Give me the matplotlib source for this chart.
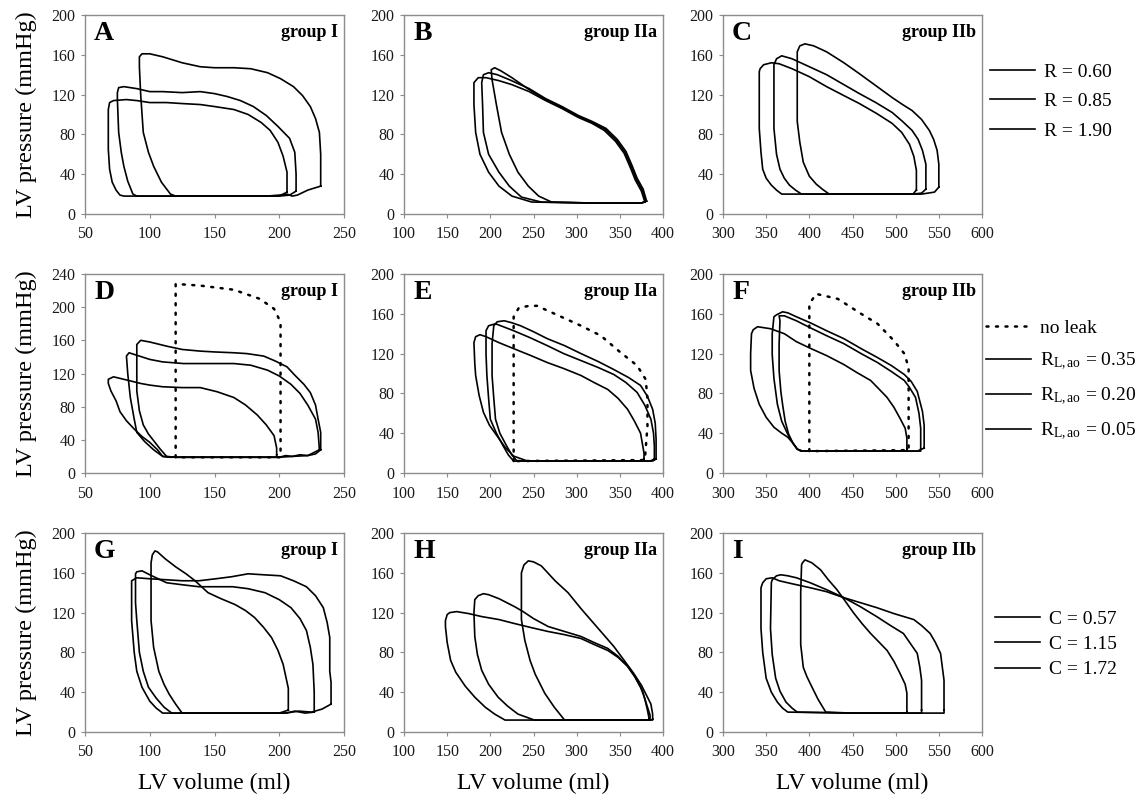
import matplotlib.pyplot as plt
from matplotlib.lines import Line2D

plt.rcParams['font.family'] = ['Liberation Serif', 'DejaVu Serif']
plt.rcParams['mathtext.fontset'] = 'custom'
plt.rcParams['mathtext.rm'] = 'Liberation Serif'
plt.rcParams['mathtext.it'] = 'Liberation Serif:italic'

# --- pressure-volume loops (volume ml, pressure mmHg) ---
# row 1: peripheral resistance R
loop_A1 = [(232, 28), (232, 60), (231, 82), (228, 96), (224, 108), (218, 119), (211, 128), (201, 136),
           (191, 142), (178, 146), (165, 147), (150, 147), (139, 148), (125, 152), (110, 158), (100, 161),
           (94, 161), (92, 158), (92, 148), (93, 120), (95, 82), (99, 62), (103, 48), (109, 32), (116, 20),
           (120, 18), (150, 18), (190, 18), (200, 19), (206, 20), (210, 18), (214, 19), (222, 24), (232, 28)]
loop_A2 = [(213, 23), (213, 40), (212, 62), (208, 76), (199, 88), (190, 99), (180, 108), (170, 114),
           (160, 118), (150, 121), (139, 123), (125, 122), (110, 123), (100, 123), (90, 126), (80, 128),
           (76, 127), (75, 122), (75, 115), (76, 82), (78, 62), (80, 48), (83, 33), (87, 20), (90, 18),
           (150, 18), (200, 18), (208, 19), (213, 23)]
loop_A3 = [(206, 22), (206, 42), (203, 58), (199, 72), (193, 84), (186, 92), (176, 100), (165, 105),
           (150, 108), (139, 110), (125, 111), (113, 112), (100, 112), (90, 114), (82, 115), (72, 114),
           (69, 112), (68, 105), (68, 65), (69, 45), (71, 32), (74, 24), (77, 19), (80, 18), (150, 18),
           (200, 18), (206, 22)]

loop_B1 = [(380, 13), (376, 24), (369, 35), (363, 48), (356, 62), (346, 74), (333, 85), (318, 92),
           (302, 98), (283, 107), (264, 115), (245, 125), (225, 137), (212, 144), (205, 147), (201, 145),
           (202, 135), (207, 110), (213, 82), (222, 60), (232, 42), (244, 28), (256, 18), (271, 12),
           (320, 11), (375, 11), (380, 13)]
loop_B2 = [(381, 13), (377, 25), (370, 36), (364, 49), (357, 63), (347, 75), (334, 86), (318, 93),
           (302, 99), (283, 108), (264, 116), (245, 126), (222, 135), (208, 140), (198, 142), (192, 140),
           (190, 132), (191, 110), (192, 82), (198, 60), (210, 42), (222, 28), (236, 17), (259, 12),
           (320, 11), (375, 11), (381, 13)]
loop_B3 = [(379, 12), (375, 23), (368, 34), (362, 47), (355, 61), (345, 73), (332, 84), (318, 91),
           (302, 97), (283, 106), (264, 114), (245, 123), (225, 130), (210, 134), (195, 137), (186, 137),
           (181, 132), (181, 110), (183, 82), (188, 60), (198, 42), (210, 28), (225, 18), (248, 12),
           (320, 11), (375, 11), (379, 12)]

loop_C1 = [(550, 27), (550, 50), (548, 64), (544, 75), (539, 84), (530, 95), (519, 104), (508, 110),
           (496, 117), (477, 129), (458, 141), (440, 152), (420, 163), (405, 169), (395, 171), (389, 169),
           (386, 163), (386, 120), (386, 93), (389, 72), (393, 52), (400, 38), (408, 30), (415, 25),
           (423, 20), (450, 20), (500, 20), (530, 20), (545, 22), (550, 27)]
loop_C2 = [(535, 25), (535, 50), (531, 64), (526, 75), (519, 84), (508, 93), (496, 102), (477, 112),
           (458, 121), (440, 130), (420, 140), (400, 148), (380, 156), (368, 159), (362, 156), (359, 150),
           (359, 100), (359, 86), (362, 60), (366, 45), (371, 36), (377, 29), (384, 24), (391, 20),
           (450, 20), (520, 20), (530, 21), (535, 25)]
loop_C3 = [(524, 24), (524, 44), (521, 58), (516, 70), (507, 82), (496, 91), (478, 101), (458, 111),
           (440, 119), (420, 128), (400, 138), (380, 146), (365, 151), (356, 152), (347, 150), (343, 146),
           (342, 143), (342, 110), (342, 86), (344, 62), (346, 45), (350, 36), (356, 29), (362, 24),
           (368, 20), (450, 20), (520, 20), (524, 24)]

# row 2: aortic leak resistance R_L,ao (dotted = no leak)
noleak_D = [(120, 19), (120, 228), (139, 226), (165, 221), (185, 210), (196, 198), (201, 182), (201, 19), (120, 19)]
loop_D1 = [(232, 28), (232, 49), (230, 65), (228, 82), (224, 97), (219, 107), (212, 118), (206, 128),
           (197, 135), (188, 141), (175, 144), (165, 145), (150, 146), (139, 147), (125, 149), (113, 153),
           (100, 158), (93, 160), (90, 155), (90, 130), (90, 99), (92, 75), (95, 58), (99, 47), (103, 39),
           (108, 29), (113, 20), (120, 19), (200, 19), (205, 21), (210, 20), (216, 22), (222, 21),
           (228, 23), (232, 28)]
loop_D2 = [(231, 28), (230, 49), (228, 65), (222, 82), (216, 96), (209, 107), (200, 117), (191, 124),
           (178, 130), (165, 132), (150, 132), (126, 132), (110, 134), (100, 137), (90, 142), (84, 145),
           (82, 141), (83, 120), (85, 91), (88, 65), (90, 49), (96, 38), (103, 28), (110, 20), (120, 19),
           (200, 19), (210, 20), (222, 21), (231, 28)]
loop_D3 = [(198, 22), (198, 30), (196, 45), (190, 58), (183, 70), (174, 82), (165, 91), (152, 98),
           (139, 103), (125, 103), (110, 104), (100, 106), (93, 108), (80, 113), (72, 116), (68, 113),
           (68, 108), (70, 99), (74, 87), (77, 74), (82, 63), (88, 53), (94, 44), (100, 37), (106, 28),
           (110, 20), (115, 19), (198, 19), (198, 22)]

noleak_E = [(227, 12), (227, 157), (233, 166), (245, 168), (254, 168), (277, 159), (305, 148), (328, 138),
            (351, 121), (370, 108), (380, 94), (382, 74), (382, 47), (380, 25), (379, 13), (227, 12)]
loop_E1 = [(378, 14), (378, 20), (374, 40), (367, 52), (359, 64), (348, 75), (336, 84), (320, 91),
           (305, 98), (285, 105), (266, 111), (247, 118), (227, 125), (210, 131), (195, 137), (188, 139),
           (183, 137), (181, 131), (182, 110), (183, 98), (187, 78), (192, 61), (199, 48), (208, 37),
           (217, 26), (227, 17), (243, 12), (300, 12), (375, 12), (378, 14)]
loop_E2 = [(390, 14), (390, 27), (389, 40), (386, 54), (379, 68), (370, 81), (357, 91), (343, 99),
           (325, 106), (305, 113), (285, 120), (266, 128), (246, 136), (227, 143), (215, 147), (206, 150),
           (198, 148), (195, 143), (195, 120), (196, 98), (198, 75), (200, 54), (207, 40), (215, 27),
           (221, 18), (227, 12), (300, 12), (385, 12), (390, 14)]
loop_E3 = [(392, 14), (392, 34), (391, 50), (388, 64), (382, 77), (374, 88), (360, 96), (343, 104),
           (325, 112), (305, 120), (286, 128), (266, 135), (250, 142), (235, 148), (225, 151), (216, 153),
           (208, 152), (204, 148), (202, 130), (202, 98), (204, 75), (206, 54), (211, 40), (219, 27),
           (225, 18), (231, 12), (300, 12), (388, 12), (392, 14)]

noleak_F = [(400, 22), (400, 170), (408, 180), (433, 175), (460, 160), (479, 150), (498, 133), (510, 120),
            (515, 106), (515, 49), (515, 23), (400, 22)]
loop_F1 = [(533, 25), (533, 34), (533, 48), (531, 62), (525, 82), (518, 92), (510, 99), (495, 108),
           (479, 116), (460, 125), (440, 135), (420, 143), (401, 151), (385, 157), (375, 161), (369, 162),
           (362, 159), (359, 157), (357, 140), (357, 119), (359, 95), (363, 69), (368, 52), (375, 39),
           (381, 30), (386, 24), (392, 22), (500, 22), (525, 22), (533, 25)]
loop_F2 = [(529, 24), (529, 34), (529, 45), (527, 60), (523, 76), (516, 86), (510, 93), (495, 102),
           (479, 111), (460, 120), (440, 130), (420, 138), (401, 146), (385, 153), (371, 158), (365, 158),
           (366, 153), (365, 130), (365, 103), (367, 82), (369, 69), (372, 52), (376, 39), (381, 30),
           (386, 24), (392, 22), (500, 22), (529, 22), (529, 24)]
loop_F3 = [(513, 24), (513, 35), (511, 45), (505, 55), (498, 66), (490, 76), (480, 85), (471, 93),
           (455, 101), (440, 109), (420, 118), (402, 125), (385, 132), (371, 140), (355, 145), (340, 147),
           (335, 144), (333, 140), (332, 120), (332, 103), (336, 85), (342, 69), (350, 56), (359, 46),
           (368, 40), (375, 36), (381, 30), (386, 24), (390, 22), (450, 22), (513, 22), (513, 24)]

# row 3: arterial compliance C
loop_G1 = [(207, 22), (207, 44), (203, 68), (199, 82), (194, 95), (188, 105), (181, 115), (174, 122),
           (166, 128), (155, 134), (145, 140), (140, 146), (135, 152), (128, 159), (120, 166), (112, 174),
           (106, 181), (104, 182), (102, 178), (101, 170), (101, 112), (103, 85), (107, 61), (111, 48),
           (115, 38), (120, 28), (125, 19), (200, 19), (207, 22)]
loop_G2 = [(227, 20), (227, 40), (226, 68), (224, 85), (221, 102), (216, 114), (209, 125), (200, 133),
           (189, 140), (176, 144), (164, 146), (150, 146), (138, 146), (125, 148), (113, 150), (100, 158),
           (94, 162), (90, 161), (89, 159), (89, 130), (90, 112), (92, 80), (95, 61), (99, 45), (105, 34),
           (111, 25), (117, 19), (205, 19), (212, 21), (220, 19), (227, 20)]
loop_G3 = [(240, 28), (240, 50), (239, 61), (239, 95), (237, 110), (234, 125), (228, 137), (221, 146),
           (211, 152), (201, 157), (188, 158), (176, 159), (163, 156), (151, 154), (138, 152), (125, 152),
           (113, 153), (100, 154), (90, 155), (86, 152), (86, 150), (86, 112), (88, 80), (90, 61), (94, 45),
           (100, 31), (105, 24), (110, 19), (205, 19), (215, 21), (225, 20), (233, 23), (240, 28)]

loop_H1 = [(388, 13), (388, 18), (386, 28), (382, 35), (375, 47), (366, 59), (355, 72), (343, 86),
           (332, 97), (320, 109), (305, 124), (290, 140), (275, 152), (259, 167), (250, 171), (244, 172),
           (239, 168), (236, 160), (236, 140), (236, 113), (240, 92), (246, 72), (252, 58), (263, 39),
           (274, 25), (286, 12), (388, 12), (388, 13)]
loop_H2 = [(384, 13), (382, 22), (379, 33), (376, 42), (368, 55), (359, 66), (348, 76), (336, 84),
           (320, 90), (305, 96), (286, 101), (267, 106), (250, 114), (238, 121), (228, 126), (210, 134),
           (198, 138), (192, 139), (186, 137), (182, 133), (181, 120), (182, 96), (185, 78), (190, 62),
           (198, 48), (209, 35), (220, 26), (232, 18), (251, 12), (384, 12), (384, 13)]
loop_H3 = [(385, 12), (385, 17), (382, 25), (378, 36), (374, 45), (367, 56), (359, 66), (348, 75),
           (336, 82), (320, 88), (305, 94), (285, 98), (267, 101), (247, 105), (228, 109), (210, 113),
           (190, 116), (175, 119), (161, 121), (153, 120), (150, 118), (148, 112), (148, 106), (150, 90),
           (154, 72), (160, 60), (171, 46), (182, 35), (194, 25), (205, 18), (217, 12), (300, 12), (385, 12)]

loop_I1 = [(513, 20), (513, 39), (511, 48), (505, 59), (498, 71), (490, 82), (480, 91), (471, 99),
           (461, 109), (451, 120), (442, 131), (432, 143), (422, 153), (413, 163), (403, 170), (395, 173),
           (392, 170), (391, 168), (390, 140), (390, 88), (393, 65), (397, 56), (402, 47), (410, 33),
           (419, 20), (450, 19), (513, 19), (513, 20)]
loop_I2 = [(530, 22), (530, 52), (528, 65), (525, 79), (517, 89), (509, 99), (494, 107), (478, 116),
           (459, 126), (440, 135), (420, 143), (401, 150), (385, 155), (375, 157), (367, 158), (362, 157),
           (357, 153), (356, 150), (355, 104), (357, 78), (361, 54), (366, 41), (373, 30), (380, 24),
           (386, 20), (450, 19), (530, 19), (530, 22)]
loop_I3 = [(556, 22), (556, 52), (552, 79), (546, 90), (540, 99), (530, 107), (521, 113), (498, 119),
           (478, 125), (459, 130), (440, 135), (420, 141), (401, 145), (380, 149), (365, 152), (357, 155),
           (350, 154), (346, 150), (344, 145), (344, 104), (346, 80), (350, 54), (356, 40), (363, 30),
           (369, 24), (375, 20), (450, 19), (556, 19), (556, 22)]

panel_letters = ['A', 'B', 'C', 'D', 'E', 'F', 'G', 'H', 'I']
group_names = ['group I', 'group IIa', 'group IIb']
x_limits = [(50, 250), (100, 400), (300, 600)]
legend_R = ['R = 0.60', 'R = 0.85', 'R = 1.90']
legend_leak = ['no leak', r'R$_{\rm L,ao}$ = 0.35', r'R$_{\rm L,ao}$ = 0.20', r'R$_{\rm L,ao}$ = 0.05']
legend_C = ['C = 0.57', 'C = 1.15', 'C = 1.72']

panel_loops = [
    [loop_A1, loop_A2, loop_A3], [loop_B1, loop_B2, loop_B3], [loop_C1, loop_C2, loop_C3],
    [loop_D1, loop_D2, loop_D3], [loop_E1, loop_E2, loop_E3], [loop_F1, loop_F2, loop_F3],
    [loop_G1, loop_G2, loop_G3], [loop_H1, loop_H2, loop_H3], [loop_I1, loop_I2, loop_I3],
]
panel_noleak = {3: noleak_D, 4: noleak_E, 5: noleak_F}

# layout in pixels
W, H = 1139, 801
col_left = [85, 404, 723]
row_top = [15, 274, 533]
aw, ah = 259, 199
frame = '#8c8c8c'

fig = plt.figure(figsize=(W / 100, H / 100), dpi=100)

for i in range(9):
    r, c = divmod(i, 3)
    ax = fig.add_axes([col_left[c] / W, 1 - (row_top[r] + ah) / H, aw / W, ah / H])

    for loop in panel_loops[i]:
        v, p = zip(*loop)
        ax.plot(v, p, color='black', lw=1.2, solid_joinstyle='round')
    if i in panel_noleak:
        v, p = zip(*panel_noleak[i])
        ax.plot(v, p, color='black', lw=1.8, linestyle=(0, (0.8, 3)), dash_capstyle='round')

    ax.set_xlim(x_limits[c])
    x0, x1 = x_limits[c]
    ax.set_xticks(range(x0, x1 + 1, 50))
    if i == 3:
        ax.set_ylim(0, 240)
        ax.set_yticks(range(0, 241, 40))
    else:
        ax.set_ylim(0, 200)
        ax.set_yticks(range(0, 201, 40))

    for s in ax.spines.values():
        s.set_color(frame)
        s.set_linewidth(1.0)
    ax.tick_params(axis='both', direction='out', length=3, width=0.8, color=frame,
                   labelsize=11.5, labelcolor='#1a1a1a')
    ax.tick_params(axis='x', pad=6)
    ax.tick_params(axis='y', pad=4)

    ax.text(0.035, 0.97, panel_letters[i], transform=ax.transAxes, ha='left', va='top',
            fontsize=20, fontweight='bold')
    ax.text(0.975, 0.955, group_names[c], transform=ax.transAxes, ha='right', va='top',
            fontsize=13, fontweight='bold')

# y labels on the left of each row
for r in range(3):
    yc = 1 - (row_top[r] + ah / 2) / H
    fig.text(26 / W, yc, 'LV pressure (mmHg)', rotation=90, ha='center', va='center', fontsize=17.5)

# x labels under each column
for c in range(3):
    fig.text((col_left[c] + aw / 2) / W, 1 - 783 / H, 'LV volume (ml)', ha='center', va='center',
             fontsize=17)

# legends on the right of each row
solid = Line2D([], [], color='black', lw=1.2)
dotted = Line2D([], [], color='black', lw=1.8, linestyle=(0, (0.8, 3)), dash_capstyle='round')
leg_style = dict(loc='upper left', frameon=False, fontsize=14, handlelength=2.3, handletextpad=0.5,
                 borderpad=0, borderaxespad=0)

fig.legend([solid] * 3, legend_R, bbox_to_anchor=(990 / W, 1 - 63 / H), labelspacing=0.62, **leg_style)
fig.legend([dotted] + [solid] * 3, legend_leak, bbox_to_anchor=(986 / W, 1 - 319 / H),
           labelspacing=0.72, **leg_style)
fig.legend([solid] * 3, legend_C, bbox_to_anchor=(995 / W, 1 - 610 / H), labelspacing=0.4, **leg_style)

plt.savefig('out.png', dpi=100)
